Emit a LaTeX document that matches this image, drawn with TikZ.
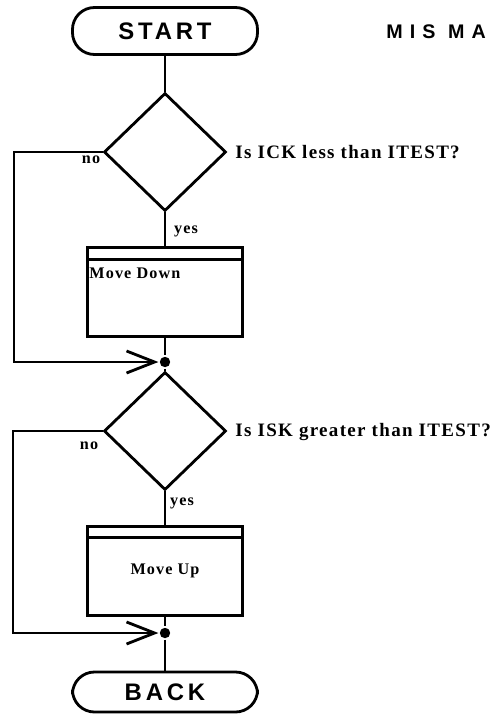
\documentclass[tikz,border=0pt]{standalone}
\usepackage{fontspec}
\setmainfont{Liberation Serif}
\newfontfamily\plotfont[LetterSpace=16]{Liberation Sans}
\newfontfamily\titlefont[LetterSpace=36]{Liberation Sans}
\newfontfamily\printfont[LetterSpace=7]{Liberation Serif}
\usetikzlibrary{shapes.geometric, arrows.meta}

\begin{document}
\begin{tikzpicture}[
    x=0.025cm, y=-0.025cm, line width=2pt,
    terminal/.style={rectangle, draw, rounded corners=0.55cm, minimum width=4.625cm, minimum height=1.175cm, inner sep=0pt, font=\plotfont\bfseries\fontsize{17}{20}\selectfont},
    decision/.style={diamond, draw, minimum width=3.05cm, minimum height=2.95cm, inner sep=0pt},
    process/.style={rectangle, draw, minimum width=3.875cm, minimum height=2.225cm, inner sep=0pt, outer sep=0pt, font=\printfont\bfseries\fontsize{11.5}{13}\selectfont},
    junction/.style={circle, fill, minimum size=0.26cm, inner sep=0pt},
    question/.style={font=\printfont\bfseries\fontsize{13.5}{15}\selectfont, inner sep=0pt, anchor=west},
    tag/.style={font=\printfont\bfseries\fontsize{11.5}{13}\selectfont, inner sep=0pt},
    flow/.style={-{Straight Barb[length=0.7cm, width=0.55cm]}}
]
\useasboundingbox (0,0) rectangle (502,718);

% ==================== TERMINALS & TITLE ====================
\node[terminal] (start) at (165,31) {START};
\node[font=\titlefont\bfseries\fontsize{14}{16}\selectfont, anchor=base west, inner sep=0pt] (title) at (385,38) {MIS MA};
\node[terminal, minimum height=1cm] (back) at (165,692) {BACK};

% ==================== FIRST TEST ====================
\node[decision] (d1) at (165,152) {};
\node[question] (q1) at (234,152) {Is ICK less than ITEST?};
\node[tag] (no1) at (91,160) {no};
\node[tag] (yes1) at (186,231) {yes};
\node[process] (b1) at (165,292) {};
\node[tag, anchor=west] (mdown) at (88,273) {Move Down};
\node[junction] (j1) at (165,362) {};

% ==================== SECOND TEST ====================
\node[decision] (d2) at (165,431) {};
\node[question] (q2) at (234,432) {Is ISK greater than ITEST?};
\node[tag] (no2) at (89,446) {no};
\node[tag] (yes2) at (182,503) {yes};
\node[process] (b2) at (165,571) {Move Up};
\node[junction] (j2) at (165,633) {};

% ==================== FLOW LINES ====================
\draw (start) -- (d1);
\draw (d1) -- (b1);
\draw (b1) -- (j1);
\draw (j1) -- (d2);
\draw (d2) -- (b2);
\draw (b2) -- (j2);
\draw (j2) -- (back);

% header bars of the boxes
\draw ([yshift=-0.3cm]b1.north west) -- ([yshift=-0.3cm]b1.north east);
\draw ([yshift=-0.28cm]b2.north west) -- ([yshift=-0.28cm]b2.north east);

% "no" branches
\coordinate (l1) at (14,152);
\coordinate (l2) at (13,431);
\draw[flow] (d1.west) -- (l1) |- (j1);
\draw[flow] (d2.west) -- (l2) |- (j2);

\end{tikzpicture}
\end{document}
